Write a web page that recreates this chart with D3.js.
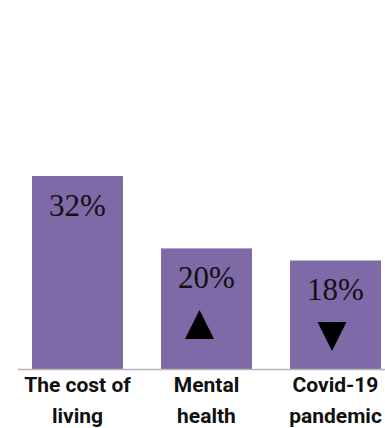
<!DOCTYPE html>
<html><head><meta charset="utf-8">
<script src="https://cdn.jsdelivr.net/npm/d3@7"></script>
<style>html,body{margin:0;padding:0;background:#fff;}svg{display:block;}</style>
</head><body>
<svg id="c" width="385" height="428"></svg>
<script>
const categories = [["The cost of","living"],["Mental","health"],["Covid-19","pandemic"]];
const values = [32, 20, 18];
const valueLabels = ["32%", "20%", "18%"];
const trends = [null, "up", "down"];

const svg = d3.select("#c");
const baseY = 369;
const x = d3.scaleBand().domain(d3.range(categories.length))
  .range([18, 395]).paddingInner(0.295).paddingOuter(0.1085);
const y = d3.scaleLinear().domain([0, 40]).range([baseY, baseY - 241.2]);

svg.selectAll("rect.bar").data(values).join("rect")
  .attr("class","bar")
  .attr("x",(d,i)=>x(i)).attr("width",x.bandwidth())
  .attr("y",d=>y(d)).attr("height",d=>y(0)-y(d))
  .attr("fill","#7f6aa8");

svg.append("line").attr("x1",18).attr("x2",385).attr("y1",baseY+0.5).attr("y2",baseY+0.5)
  .attr("stroke","#b4b4b4").attr("stroke-width",1.5);

svg.selectAll("text.val").data(values).join("text")
  .attr("class","val")
  .attr("x",(d,i)=>x(i)+x.bandwidth()/2)
  .attr("y",d=>y(d)+40)
  .attr("text-anchor","middle")
  .attr("font-family","'Liberation Serif', serif")
  .attr("font-size",31)
  .attr("fill","#111")
  .text((d,i)=>valueLabels[i]);

const triShift = {up:-7, down:-3.5};
svg.selectAll("path.tri").data(values.map((v,i)=>({v,i,t:trends[i]})).filter(d=>d.t)).join("path")
  .attr("class","tri")
  .attr("d",d=>{
    const cx = x(d.i)+x.bandwidth()/2 + triShift[d.t];
    const top = y(d.v)+61.5, h = 29, w = 29;
    return d.t==="up"
      ? `M${cx},${top}L${cx+w/2},${top+h}L${cx-w/2},${top+h}Z`
      : `M${cx-w/2},${top}L${cx+w/2},${top}L${cx},${top+h}Z`;
  })
  .attr("fill","#000");

const lab = svg.selectAll("text.cat").data(categories).join("text")
  .attr("class","cat")
  .attr("x",(d,i)=>x(i)+x.bandwidth()/2)
  .attr("y",392)
  .attr("text-anchor","middle")
  .attr("font-family","Roboto, sans-serif")
  .attr("font-weight","bold")
  .attr("font-size",21)
  .attr("fill","#111");
lab.selectAll("tspan").data(d=>d).join("tspan")
  .attr("x",function(){return this.parentNode.getAttribute("x");})
  .attr("dy",(d,j)=>j===0?0:31)
  .text(d=>d);
</script>
</body></html>
